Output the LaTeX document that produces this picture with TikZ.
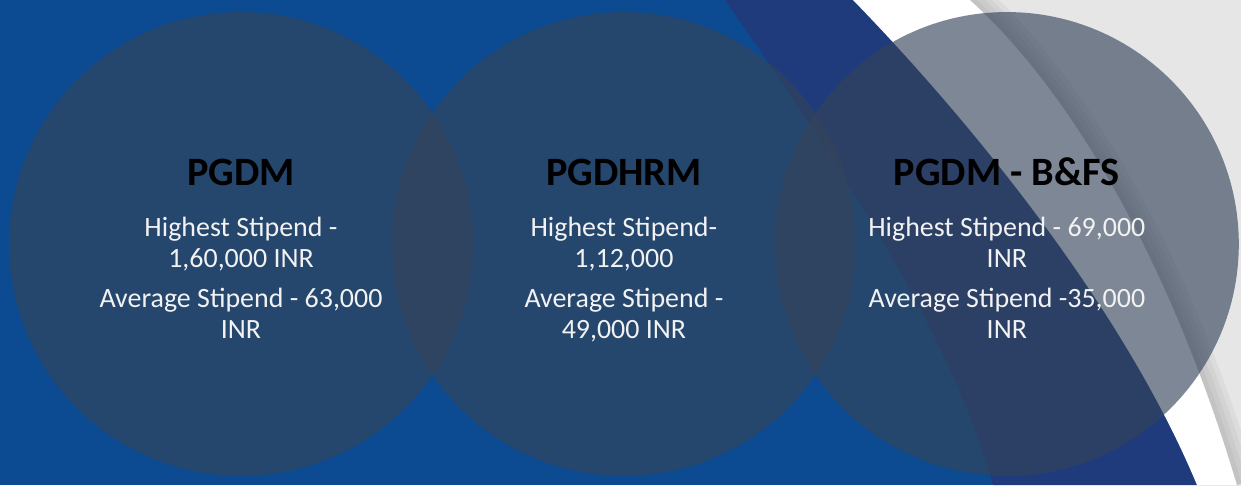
\documentclass[tikz,border=0pt]{standalone}
\usepackage{fontspec}
\setmainfont{Carlito}
\definecolor{slideblue}{HTML}{0C4A91}
\definecolor{slidenavy}{HTML}{1F3B7C}
\definecolor{slidegray}{HTML}{E6E6E6}
\definecolor{bubblefill}{HTML}{34445A}
\definecolor{bodytext}{HTML}{F2F2F2}
\tikzset{
  bubble/.style={circle,fill=bubblefill,fill opacity=0.64,minimum size=9.28cm,inner sep=0pt},
  progtitle/.style={font=\fontsize{22.9}{26}\selectfont\bfseries,text=black,anchor=base,inner sep=0pt},
  stipend/.style={font=\fontsize{15.9}{17.1}\selectfont,text=bodytext,align=center,anchor=base,inner sep=0pt},
}
\newcommand{\stipendcircle}[4]{
\node [bubble] (#1) at (241,244) {};
\node [progtitle] (#1-title) at (241,185) {#2};
\node [stipend] (#1-high) at (241,267) {#3};
\node [stipend] (#1-avg) at (241,338) {#4};
}

\begin{document}
\begin{tikzpicture}[x=0.02cm,y=-0.02cm]
\useasboundingbox (0,0) rectangle (1241,485);
% background bands
\fill [slideblue] (0,0) rectangle (1241,485);
\fill [slidenavy] (725,0) .. controls (830,150) and (950,330) .. (993,485)
  -- (1241,485) -- (1241,0) -- cycle;
\fill [white] (853,0) .. controls (960,110) and (1120,300) .. (1197,485)
  -- (1241,485) -- (1241,0) -- cycle;
\fill [slidegray] (970,0) .. controls (1070,90) and (1170,260) .. (1237,485)
  -- (1241,485) -- (1241,0) -- cycle;
\begin{scope}
\clip (970,0) .. controls (1070,90) and (1170,260) .. (1237,485)
  -- (1241,485) -- (1241,0) -- cycle;
\foreach \w in {0.8,0.6,0.4,0.2}
  \draw [black!60,opacity=0.07,line width=\w cm] (970,0) .. controls (1070,90) and (1170,260) .. (1237,485);
\end{scope}
% the three programmes
\stipendcircle{pgdm}{PGDM}{Highest Stipend -\\1,60,000 INR}{Average Stipend - 63,000\\INR}
\begin{scope}[xshift=7.66cm]
\stipendcircle{pgdhrm}{PGDHRM}{Highest Stipend-\\1,12,000}{Average Stipend -\\49,000 INR}
\end{scope}
\begin{scope}[xshift=15.32cm]
\stipendcircle{bfs}{PGDM - B\&FS}{Highest Stipend - 69,000\\INR}{Average Stipend -35,000\\INR}
\end{scope}
\end{tikzpicture}
\end{document}
